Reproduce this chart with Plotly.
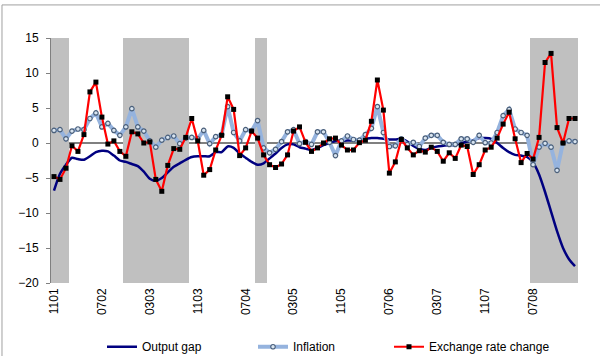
import pandas as pd
import plotly.graph_objects as go

# Monthly categories, Nov 2001 .. Feb 2009 (labels MMYY)
months = pd.date_range("2001-11-01", periods=88, freq="MS").strftime("%m%y").tolist()
tick_labels = ["1101", "0702", "0303", "1103", "0704", "0305", "1105", "0706", "0307", "1107", "0708"]

output_gap = [
    -6.8, -4.4, -3.1, -2.1, -2.3, -2.4, -1.9, -1.3, -1.1, -1.2,
    -1.8, -2.5, -2.7, -3.0, -3.3, -4.1, -5.1, -5.4, -5.0, -4.2,
    -3.4, -2.9, -2.4, -2.0, -1.9, -1.9, -1.9, -1.3, -1.3, -0.5,
    -0.7, -1.5, -2.1, -2.7, -3.1, -2.9, -2.2, -1.5, -0.7, -0.2,
    -0.2, -0.6, -0.8, -1.0, -0.7, -0.3, 0.0, 0.3, 0.3, 0.35,
    0.35, 0.5, 0.6, 0.7, 0.7, 0.6, 0.5, 0.5, 0.6, 0.2,
    -0.4, -0.8, -1.0, -0.7, -0.5, -0.4, -0.3, -0.3, 0.0, 0.2,
    0.4, 0.7, 0.7, 0.6, 0.0, -0.7, -1.3, -1.7, -1.8, -2.0,
    -2.8, -4.5, -7.0, -9.8, -12.6, -15.0, -16.6, -17.6,
]

inflation = [
    1.8, 1.9, 0.6, 1.7, 2.0, 1.9, 3.5, 4.3, 2.3, 2.8,
    1.8, 1.1, 2.3, 4.9, 2.3, 1.7, 0.3, -0.6, 0.4, 0.8,
    1.0, -0.1, 0.7, 0.8, 0.6, 1.8, -0.1, 0.9, 1.2, 5.2,
    1.5, 0.3, 1.9, 1.7, 3.2, -0.7, -1.4, -0.9, 0.2, 1.6,
    1.9, -0.1, 0.2, -0.2, 1.6, 1.6, 0.1, -1.8, 0.3, 1.0,
    0.5, 0.4, 1.2, 2.1, 5.2, 1.5, -0.5, -0.4, 0.6, -0.2,
    0.1, -0.5, 0.7, 1.1, 1.1, 0.1, -0.2, -0.2, 0.6, 0.6,
    0.1, 1.1, 0.05, 0.0, 1.5, 3.9, 4.8, 2.0, 1.5, 1.1,
    -3.1, -0.6, -0.05, -0.6, -3.9, 0.05, 0.3, 0.2,
]

exchange_rate = [
    -4.8, -5.2, -3.6, -0.4, -1.2, 1.2, 7.3, 8.7, 3.7, -0.15,
    0.3, -1.2, -1.9, 1.6, 1.3, 0.0, 0.15, -5.2, -6.9, -3.2,
    -0.8, -0.9, 0.8, 3.5, 0.3, -4.6, -3.8, -1.0, 1.1, 6.6,
    4.8, -1.8, -0.7, 1.7, 0.7, -1.7, -3.1, -3.5, -3.0, -1.7,
    1.7, 2.3, 0.1, -1.2, -0.7, 0.0, 0.6, 0.7, -0.3, -1.0,
    -1.0, 0.05, 0.4, 3.1, 9.0, 4.7, -4.3, -2.7, 0.5, -0.7,
    -1.7, -1.1, -1.3, -0.6, -1.2, -2.6, -1.4, -2.2, -0.3, -0.5,
    -4.5, -3.1, -1.0, -0.6, 0.7, 2.7, 4.4, 0.6, -2.8, -1.5,
    -2.3, 0.8, 11.5, 12.8, 2.2, 0.0, 3.5, 3.5,
]

# Shaded periods (1 = shaded month)
shaded = ([1] * 3 + [0] * 9 + [1] * 11 + [0] * 11 + [1] * 2 + [0] * 44 + [1] * 8)

Y_MIN, Y_MAX = -20, 15

fig = go.Figure()

fig.add_trace(go.Bar(
    x=months,
    y=[(Y_MAX - Y_MIN) if s else None for s in shaded],
    base=Y_MIN,
    width=1.0,
    marker=dict(color="#C0C0C0", line=dict(width=0)),
    showlegend=False,
    hoverinfo="skip",
))

fig.add_trace(go.Scatter(
    x=months, y=output_gap, name="Output gap", mode="lines", legend="legend",
    line=dict(color="#000080", width=2.5, shape="spline", smoothing=0.6),
))

fig.add_trace(go.Scatter(
    x=months, y=inflation, name="Inflation", mode="lines+markers", legend="legend2",
    line=dict(color="#95B3DE", width=4),
    marker=dict(symbol="circle", size=4.5, color="#D8E4F0",
                line=dict(color="#4A5F7A", width=1.2)),
))

fig.add_trace(go.Scatter(
    x=months, y=exchange_rate, name="Exchange rate change", mode="lines+markers",
    legend="legend3",
    line=dict(color="#FF0000", width=2.2),
    marker=dict(symbol="square", size=5, color="#000000"),
))

leg_common = dict(orientation="h", xref="container", yref="container",
                  xanchor="left", y=0.026, yanchor="middle",
                  font=dict(size=12), itemwidth=30, bgcolor="rgba(0,0,0,0)")

fig.update_layout(
    width=600, height=356,
    margin=dict(l=51, r=22, t=38, b=73, autoexpand=False),
    paper_bgcolor="white", plot_bgcolor="white",
    font=dict(family="Liberation Sans, Arial, sans-serif", size=12, color="#000000"),
    bargap=0,
    showlegend=True,
    legend=dict(x=102 / 600, **leg_common),
    legend2=dict(x=253 / 600, **leg_common),
    legend3=dict(x=389 / 600, **leg_common),
    shapes=[dict(type="rect", xref="paper", yref="paper",
                 x0=-0.093, x1=1.3, y0=-0.6, y1=1.135,
                 line=dict(color="#A0A0A0", width=1), fillcolor="rgba(0,0,0,0)", layer="below")],
)

fig.update_xaxes(
    type="category", range=[-0.5, len(months) - 0.5],
    tickmode="array", tickvals=tick_labels, ticktext=tick_labels,
    tickangle=-90, showgrid=False, showline=False, zeroline=False,
    ticks="", tickfont=dict(size=12), automargin=False, ticklabelstandoff=2,
)

fig.update_yaxes(
    range=[Y_MIN, Y_MAX], dtick=5, showgrid=False,
    showline=True, linecolor="#808080", linewidth=1,
    ticks="outside", ticklen=4, tickcolor="#808080",
    zeroline=True, zerolinecolor="#808080", zerolinewidth=1.5,
    tickfont=dict(size=12), automargin=False, ticklabelstandoff=5,
)

fig.write_html("out.html")
